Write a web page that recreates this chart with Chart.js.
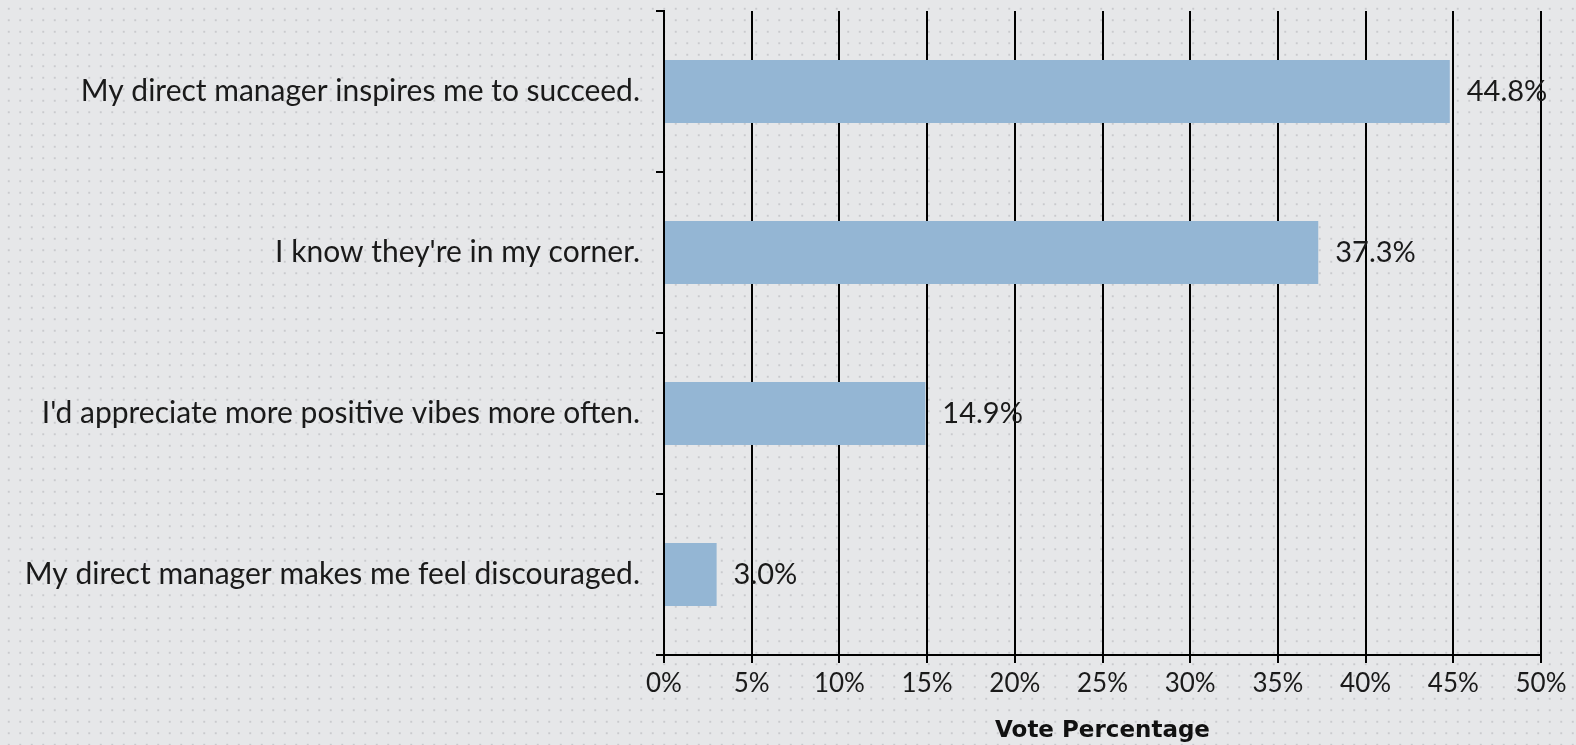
<!DOCTYPE html>
<html>
<head>
<meta charset="utf-8">
<script src="https://cdn.jsdelivr.net/npm/chart.js@4"></script>
<style>
  html, body { margin: 0; padding: 0; }
  body {
    width: 1576px; height: 745px; overflow: hidden;
    background-color: #e6e7e9;
    background-image: radial-gradient(circle, #c9cacd 0.9px, transparent 1.3px);
    background-size: 11.5px 11.5px;
    background-position: 3px 3px;
  }
  #wrap { position: relative; width: 1576px; height: 745px; }
</style>
</head>
<body>
<div id="wrap"><canvas id="bar-chart"></canvas></div>
<script>
// chart data
const categories = [
    'My direct manager inspires me to succeed.',
    "I know they're in my corner.",
    "I'd appreciate more positive vibes more often.",
    'My direct manager makes me feel discouraged.'
];
const votePercent = [44.8, 37.3, 14.9, 3.0];
const xTicks = [0, 5, 10, 15, 20, 25, 30, 35, 40, 45, 50];
const axisTitle = 'Vote Percentage';

const labelFont = "'Lato', 'DejaVu Sans', sans-serif";

/*==================== VALUE LABELS ====================*/
const valueLabels = {
    id: 'valueLabels',
    afterDatasetsDraw(chart) {
        const ctx = chart.ctx;
        const meta = chart.getDatasetMeta(0);
        ctx.save();
        ctx.font = '29px ' + labelFont;
        ctx.fillStyle = '#1a1a1a';
        ctx.textAlign = 'left';
        ctx.textBaseline = 'middle';
        meta.data.forEach((bar, i) => {
            ctx.fillText(votePercent[i].toFixed(1) + '%', bar.x + 17, bar.y);
        });
        ctx.restore();
    }
};

const ctx = document.getElementById('bar-chart').getContext('2d');

new Chart(ctx, {
    type: 'bar',
    data: {
        labels: categories,
        datasets: [{
            data: votePercent,
            backgroundColor: '#94b6d4',
            borderWidth: 0,
            categoryPercentage: 0.8,
            barPercentage: 0.49
        }]
    },
    options: {
        indexAxis: 'y',
        responsive: true,
        maintainAspectRatio: false,
        animation: false,
        layout: { padding: { top: 11, right: 35, left: 0, bottom: 0 } },
        plugins: {
            legend: { display: false },
            tooltip: { enabled: false }
        },
        scales: {
            x: {
                min: 0,
                max: 50,
                afterBuildTicks: scale => { scale.ticks = xTicks.map(v => ({ value: v })); },
                afterFit: scale => { scale.height = 90; },
                grid: { color: '#000', lineWidth: 2, tickLength: 8, drawTicks: true },
                border: { color: '#000', width: 2 },
                ticks: {
                    color: '#1a1a1a',
                    font: { family: labelFont, size: 26 },
                    padding: 5,
                    maxRotation: 0,
                    callback: v => v + '%'
                },
                title: {
                    display: true,
                    text: axisTitle,
                    color: '#111',
                    font: { family: "'DejaVu Sans', sans-serif", size: 23, weight: 'bold' },
                    padding: { top: 9, bottom: 0 }
                }
            },
            y: {
                afterFit: scale => {
                    scale.width = 664;
                    scale.paddingTop = 0;
                    scale.paddingBottom = 0;
                },
                grid: { color: '#000', lineWidth: 2, tickLength: 8, drawOnChartArea: false, offset: true },
                border: { color: '#000', width: 2 },
                ticks: {
                    color: '#1a1a1a',
                    font: { family: labelFont, size: 30 },
                    padding: 16
                }
            }
        }
    },
    plugins: [valueLabels]
});
</script>
</body>
</html>
